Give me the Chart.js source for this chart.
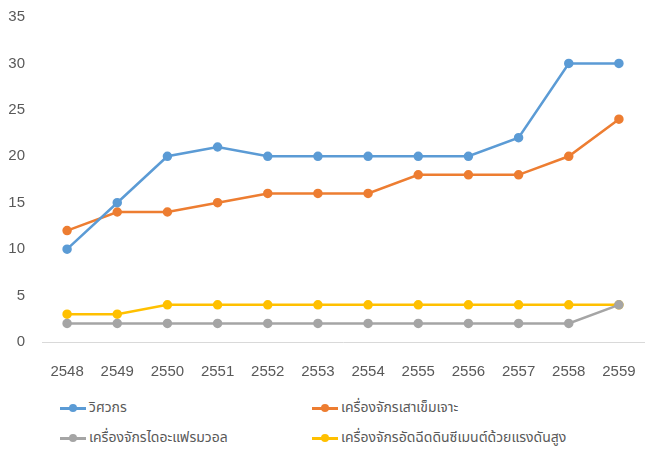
<!DOCTYPE html>
<html>
<head>
<meta charset="utf-8">
<script src="https://cdn.jsdelivr.net/npm/chart.js@4"></script>
<style>
  body { margin: 0; background: #fff; font-family: "Noto Sans Thai", "Noto Sans", sans-serif; overflow: hidden; }
  #lineChart { position: absolute; left: 0; top: 0; }
  #legend { position: absolute; left: 0; top: 390px; width: 645px; height: 59px; }
  .item { position: absolute; display: flex; align-items: center; font-size: 14px; color: #595959; white-space: nowrap; }
  .mark { position: relative; width: 26px; height: 10px; margin-right: 3px; }
  .mark .ln { position: absolute; left: 0; right: 0; top: 4px; height: 3px; }
  .mark .dt { position: absolute; left: 9px; top: 1px; width: 8px; height: 8px; border-radius: 50%; }
</style>
</head>
<body>
<canvas id="lineChart" width="650" height="390"></canvas>
<div id="legend"></div>
<script>
var years = ['2548', '2549', '2550', '2551', '2552', '2553', '2554', '2555', '2556', '2557', '2558', '2559'];
var seriesNames = ['วิศวกร', 'เครื่องจักรเสาเข็มเจาะ', 'เครื่องจักรไดอะแฟรมวอล', 'เครื่องจักรอัดฉีดดินซีเมนต์ด้วยแรงดันสูง'];
var engineers = [10, 15, 20, 21, 20, 20, 20, 20, 20, 22, 30, 30];
var boredPile = [12, 14, 14, 15, 16, 16, 16, 18, 18, 18, 20, 24];
var diaphragmWall = [2, 2, 2, 2, 2, 2, 2, 2, 2, 2, 2, 4];
var jetGrouting = [3, 3, 4, 4, 4, 4, 4, 4, 4, 4, 4, 4];
var colors = ['#5B9BD5', '#ED7D31', '#A5A5A5', '#FFC000'];

function makeSet(i, values) {
    return {
        label: seriesNames[i],
        data: values,
        borderColor: colors[i],
        backgroundColor: colors[i],
        borderWidth: 2.5,
        pointRadius: 3.5,
        pointHoverRadius: 3.5,
        tension: 0
    };
}

var ctx = document.getElementById('lineChart').getContext('2d');
var lineChart = new Chart(ctx, {
    type: 'line',
    data: {
        labels: years,
        datasets: [
            makeSet(0, engineers),
            makeSet(1, boredPile),
            makeSet(2, diaphragmWall),
            makeSet(3, jetGrouting)
        ]
    },
    options: {
        responsive: false,
        animation: false,
        layout: { padding: { top: 17, right: 1, left: 0, bottom: 0 } },
        plugins: {
            legend: { display: false },
            tooltip: { enabled: false }
        },
        scales: {
            x: {
                offset: true,
                grid: { display: false, drawTicks: false },
                border: { display: true, color: '#D9D9D9', width: 1 },
                ticks: { color: '#595959', font: { size: 15, family: 'Liberation Sans' }, padding: 21, maxRotation: 0 },
                afterFit: function (axis) {
                    axis.height = 48;
                    axis.paddingLeft = 0;
                    axis.paddingRight = 0;
                }
            },
            y: {
                min: 0,
                max: 35,
                ticks: { stepSize: 5, color: '#595959', font: { size: 15, family: 'Liberation Sans' }, padding: 17 },
                grid: { display: false, drawTicks: false },
                border: { display: false },
                afterFit: function (axis) {
                    axis.width = 42;
                    axis.paddingTop = 0;
                    axis.paddingBottom = 0;
                }
            }
        }
    }
});

// legend below the chart, two columns like the original
var legendBox = document.getElementById('legend');
var spots = [[60, 17], [312, 17], [60, 47], [312, 47]];
lineChart.data.datasets.forEach(function (ds, i) {
    var item = document.createElement('div');
    item.className = 'item';
    item.style.left = spots[i][0] + 'px';
    item.style.top = (spots[i][1] - 10) + 'px';
    item.innerHTML = '<span class="mark"><span class="ln" style="background:' + ds.borderColor + '"></span>' +
        '<span class="dt" style="background:' + ds.borderColor + '"></span></span>' + ds.label;
    legendBox.appendChild(item);
});
</script>
</body>
</html>
